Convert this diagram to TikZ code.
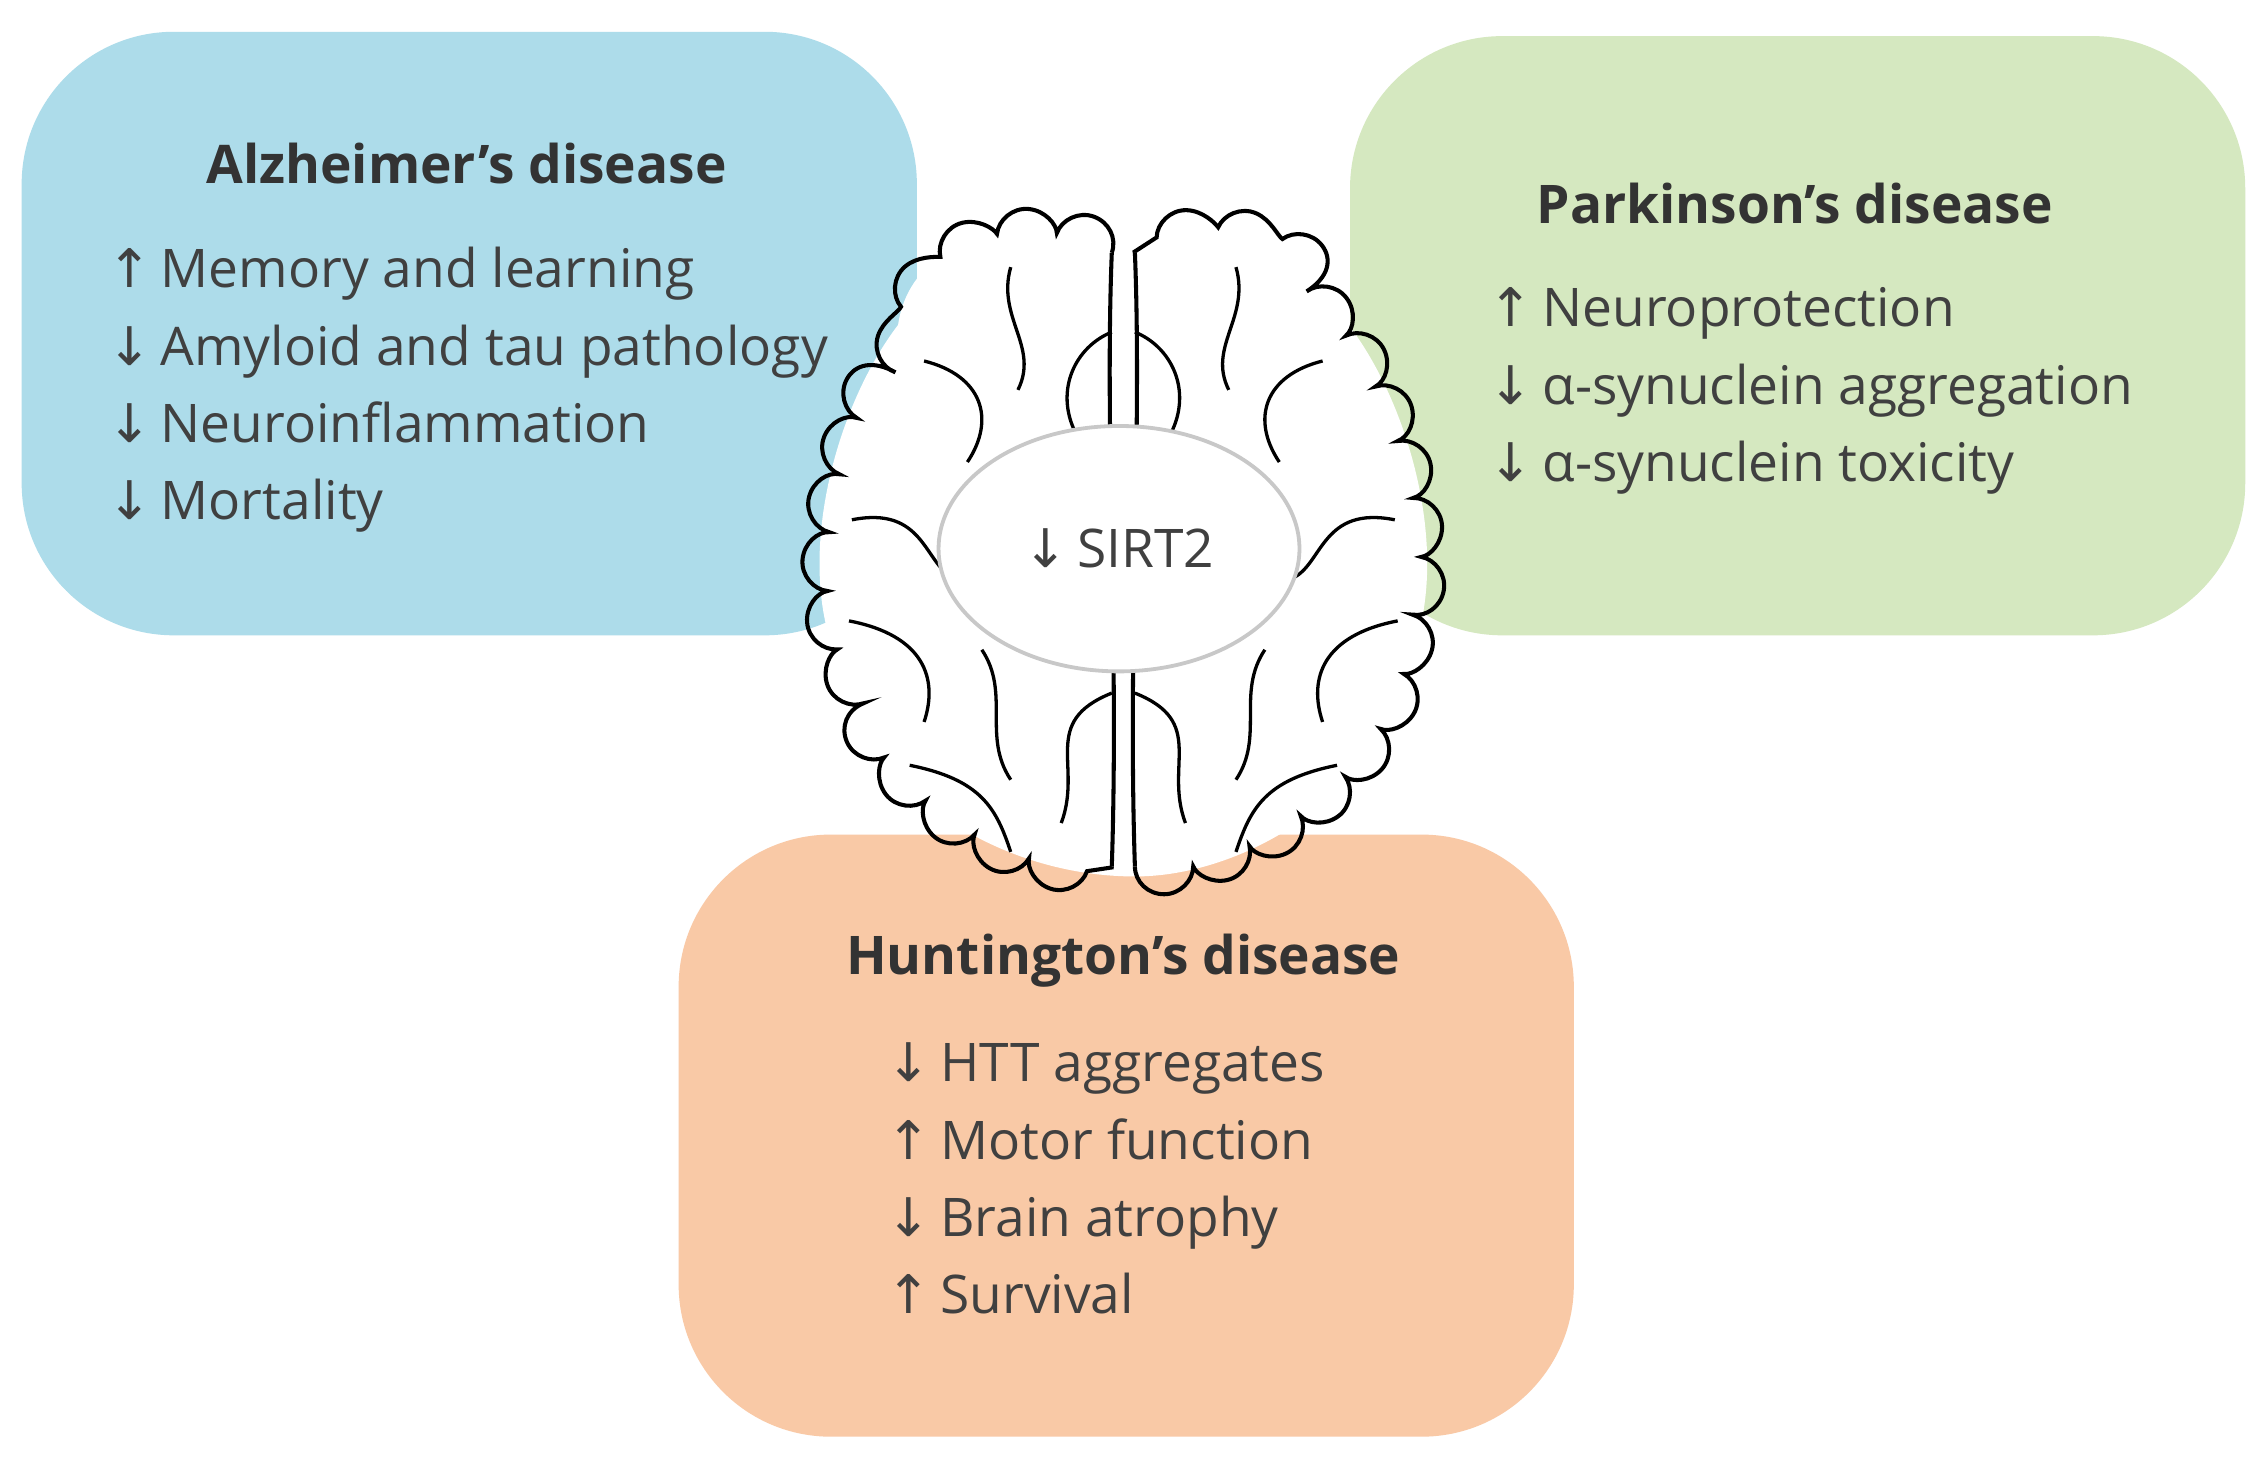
\documentclass[tikz,border=0pt]{standalone}
\usepackage{fontspec}
\setmainfont{Open Sans}
\newfontfamily\arr{DejaVu Sans}
\usetikzlibrary{decorations.pathmorphing,shapes.geometric}
\newcommand{\up}{{\arr ↑}}
\newcommand{\dn}{{\arr ↓}}
\begin{document}
\begin{tikzpicture}[x=0.02cm,y=-0.02cm,
 box/.style={rounded corners=60pt,draw=none},
 ttl/.style={font=\fontsize{21}{24}\selectfont\bfseries,text=black!80,anchor=center},
 lst/.style={font=\fontsize{21}{30.5}\selectfont,text=black!75,align=left,anchor=north west},
 brain/.style={draw=black,line width=1.6pt,decorate,decoration={bumps,segment length=46,amplitude=-11}},
 fold/.style={draw=black,line width=1.3pt}]
\useasboundingbox (0,0) rectangle (1568,1012);
\fill[white] (0,0) rectangle (1568,1012);
\fill[box,fill={rgb,255:red,173;green,220;blue,234}] (15,22) rectangle (635,440);
\fill[box,fill={rgb,255:red,213;green,232;blue,192}] (935,25) rectangle (1555,440);
\fill[box,fill={rgb,255:red,249;green,201;blue,166}] (470,578) rectangle (1090,995);
\node[ttl] (at) at (323,113) {Alzheimer’s disease};
\node[lst] (al) at (68,165) {\up\,Memory and learning\\\dn\,Amyloid and tau pathology\\\dn\,Neuroinflammation\\\dn\,Mortality};
\node[ttl] (pt) at (1243,141) {Parkinson’s disease};
\node[lst] (pl) at (1025,193) {\up\,Neuroprotection\\\dn\,α-synuclein aggregation\\\dn\,α-synuclein toxicity};
% brain fill
\fill[white] (770,168) .. controls (700,143) and (630,168) .. (622,225)
  .. controls (580,280) and (552,380) .. (577,450)
  .. controls (592,545) and (690,607) .. (786,607)
  .. controls (866,607) and (964,545) .. (979,450)
  .. controls (1004,380) and (976,280) .. (934,225)
  .. controls (926,168) and (856,143) .. (786,168) -- cycle;
\path[brain] (770,175) .. controls (700,150) and (640,175) .. (630,230)
  .. controls (590,280) and (560,380) .. (585,450)
  .. controls (600,540) and (690,600) .. (770,600);
\path[brain] (786,600) .. controls (866,600) and (956,540) .. (971,450)
  .. controls (996,380) and (966,280) .. (926,230)
  .. controls (916,175) and (856,150) .. (786,175);
\draw[fold,line width=1.6pt] (770,175) .. controls (765,300) and (775,450) .. (770,600);
\draw[fold,line width=1.6pt] (786,175) .. controls (791,300) and (781,450) .. (786,600);
\foreach \s in {1,-1}{
 \begin{scope}[xshift=778*(1-\s)*0.02cm]
 \begin{scope}[xscale=\s]
 \draw[fold] (700,185) .. controls (690,220) and (720,240) .. (705,270);
 \draw[fold] (770,230) .. controls (745,240) and (730,270) .. (745,300);
 \draw[fold] (640,250) .. controls (680,260) and (690,290) .. (670,320);
 \draw[fold] (590,360) .. controls (640,350) and (640,390) .. (660,400);
 \draw[fold] (588,430) .. controls (640,440) and (650,470) .. (640,500);
 \draw[fold] (680,450) .. controls (700,480) and (680,510) .. (700,540);
 \draw[fold] (770,480) .. controls (720,500) and (750,530) .. (735,570);
 \draw[fold] (630,530) .. controls (680,540) and (690,560) .. (700,590);
 \end{scope}\end{scope}}
\node[draw={rgb,255:red,200;green,200;blue,200},line width=1.5pt,fill=white,ellipse,inner sep=0pt,minimum width=5cm,minimum height=3.4cm] (s) at (775,380) {};
\node[font=\fontsize{21}{24}\selectfont,text=black!75] (st) at (775,380) {\dn\,SIRT2};
\node[ttl] (ht) at (778,665) {Huntington’s disease};
\node[lst] (hl) at (608,716) {\dn\,HTT aggregates\\\up\,Motor function\\\dn\,Brain atrophy\\\up\,Survival};
\end{tikzpicture}
\end{document}
